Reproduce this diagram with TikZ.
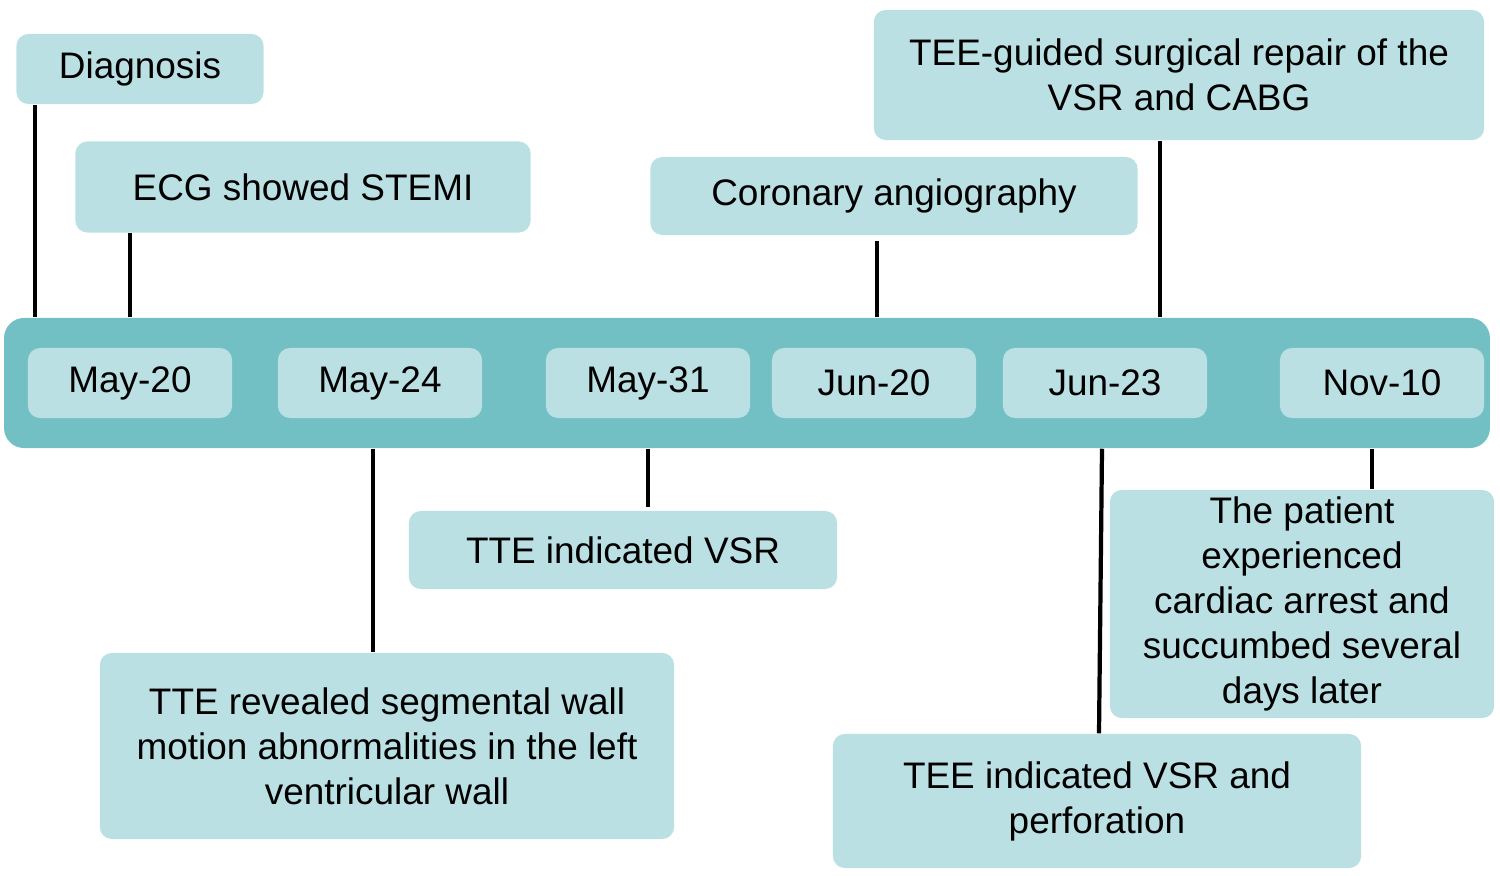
\documentclass[tikz,border=0pt]{standalone}
\usepackage{fontspec}
\setmainfont{Liberation Sans}
\usepackage{xcolor}
\definecolor{bandteal}{HTML}{72BFC4}
\definecolor{boxteal}{HTML}{BAE0E3}

\begin{document}
\begin{tikzpicture}[x=0.01cm, y=-0.01cm,
  box/.style = {fill=boxteal, rounded corners=0.12cm, align=center,
    inner sep=0pt, font=\fontsize{10.5pt}{12.8pt}\selectfont},
  date/.style = {box, minimum width=2.04cm, minimum height=0.70cm},
  stem/.style = {line width=1.2pt, black}
]
\useasboundingbox (0,0) rectangle (1500,876);

% timeline band
\node[fill=bandteal, rounded corners=0.2cm, minimum width=14.85cm,
  minimum height=1.30cm, inner sep=0pt] (band) at (747,383) {};

% dates
\node[date] (d1) at (130,383) {May-20};
\node[date] (d2) at (380,383) {May-24};
\node[date] (d3) at (648,383) {May-31};
\node[date] (d4) at (874,383) {Jun-20};
\node[date] (d5) at (1105,383) {Jun-23};
\node[date] (d6) at (1382,383) {Nov-10};

% events above
\node[box, minimum width=2.47cm, minimum height=0.70cm] (diag) at (140,69) {Diagnosis};
\node[box, minimum width=4.55cm, minimum height=0.91cm] (ecg) at (303,187) {ECG showed STEMI};
\node[box, minimum width=4.87cm, minimum height=0.78cm] (cor) at (894,196) {Coronary angiography};
\node[box, minimum width=6.10cm, minimum height=1.30cm] (rep) at (1179,75) {TEE-guided surgical repair of the\\VSR and CABG};

% events below
\node[box, minimum width=4.28cm, minimum height=0.78cm] (tte) at (623,550) {TTE indicated VSR};
\node[box, minimum width=5.74cm, minimum height=1.86cm] (wall) at (387,746) {TTE revealed segmental wall\\motion abnormalities in the left\\ventricular wall};
\node[box, minimum width=5.28cm, minimum height=1.34cm] (tee) at (1097,801) {TEE indicated VSR and\\perforation};
\node[box, minimum width=3.84cm, minimum height=2.28cm] (arr) at (1302,604) {The patient\\experienced\\cardiac arrest and\\succumbed several\\days later};

% stems
\draw[stem] (diag.south -| 35,0) -- (band.north -| 35,0);
\draw[stem] (ecg.south -| 130,0) -- (band.north -| 130,0);
\draw[stem] (877,241) -- (band.north -| 877,0);
\draw[stem] (rep.south -| 1160,0) -- (band.north -| 1160,0);
\draw[stem] (band.south -| 373,0) -- (wall.north -| 373,0);
\draw[stem] (band.south -| 648,0) -- (648,507);
\draw[stem] (band.south -| 1102,0) -- (tee.north -| 1099,0);
\draw[stem] (band.south -| 1372,0) -- (arr.north -| 1372,0);
\end{tikzpicture}
\end{document}
